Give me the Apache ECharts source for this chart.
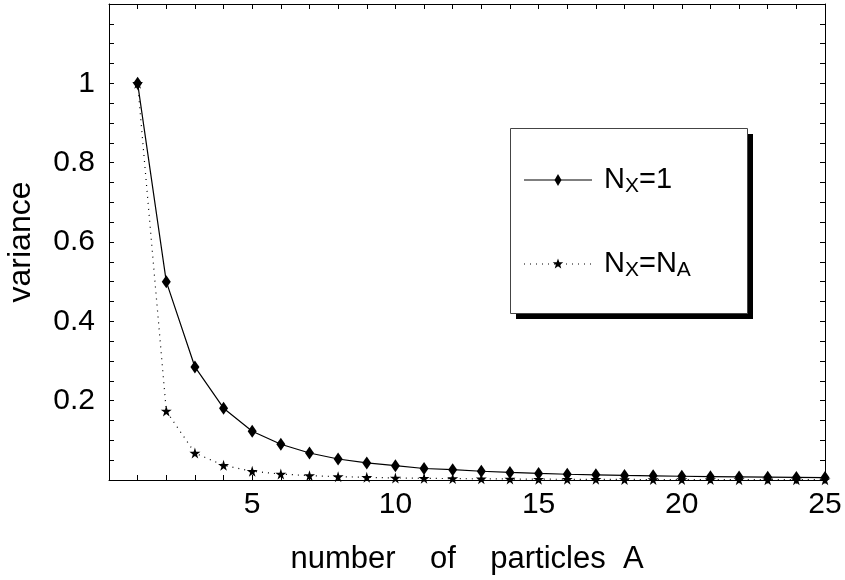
<!DOCTYPE html>
<html>
<head>
<meta charset="utf-8">
<script src="https://cdn.jsdelivr.net/npm/echarts@6/dist/echarts.min.js"></script>
<style>
html,body{margin:0;padding:0;background:#fff;}
#chart{width:845px;height:580px;}
</style>
</head>
<body>
<div id="chart"></div>
<script>
// ---- data ----
var particlesA = [1,2,3,4,5,6,7,8,9,10,11,12,13,14,15,16,17,18,19,20,21,22,23,24,25];
var varianceNx1 = [1.0,0.5,0.285,0.181,0.123,0.090,0.068,0.053,0.043,0.036,0.029,0.026,0.022,0.019,0.0165,0.0145,0.013,0.0115,0.0104,0.0094,0.0085,0.0078,0.0071,0.0066,0.0061];
var varianceNxNa = [1.0,0.174,0.068,0.037,0.022,0.015,0.011,0.0085,0.0067,0.0052,0.0042,0.0035,0.0029,0.0025,0.0021,0.0018,0.0016,0.0014,0.0012,0.0011,0.0010,0.0009,0.0008,0.0007,0.0007];
var xTickLabels = [5,10,15,20,25];
var yTickLabels = [0.2,0.4,0.6,0.8,1];
var xTitle = 'number    of    particles  A';
var yTitle = 'variance';

var FONT = 'Liberation Sans, Arial, sans-serif';
var starPath = 'path://M50,0 L61,35 L98,35 L68,57 L79,91 L50,70 L21,91 L32,57 L2,35 L39,35 Z';

function pairs(xs, ys){ return xs.map(function(x,i){ return [x, ys[i]]; }); }

var chart = echarts.init(document.getElementById('chart'), null, {renderer:'canvas'});

var axisCommon = {
  axisLine:{show:true, onZero:false, lineStyle:{color:'#000', width:1}},
  axisTick:{show:true, inside:true, length:5, lineStyle:{color:'#000', width:1}},
  splitLine:{show:false}
};

var option = {
  backgroundColor:'#fff',
  animation:false,
  grid:{left:109, right:20, top:4, bottom:100, containLabel:false, outerBoundsMode:'none'},
  xAxis:[
    Object.assign({}, axisCommon, {
      type:'value', position:'bottom', min:0, max:25, interval:5,
      minorTick:{show:true, splitNumber:5, length:5, lineStyle:{color:'#000', width:1}},
      axisLabel:{show:true, margin:10, color:'#000', fontFamily:FONT, fontSize:30,
        formatter:function(v){ return xTickLabels.indexOf(Math.round(v))>=0 ? String(Math.round(v)) : ''; }},
      name:xTitle, nameLocation:'middle', nameGap:64,
      nameTextStyle:{color:'#000', fontFamily:FONT, fontSize:31}
    }),
    Object.assign({}, axisCommon, {
      type:'value', position:'top', min:0, max:25, interval:5,
      minorTick:{show:true, splitNumber:5, length:5, lineStyle:{color:'#000', width:1}},
      axisLabel:{show:false}
    })
  ],
  yAxis:[
    Object.assign({}, axisCommon, {
      type:'value', position:'left', min:0, max:1.2, interval:0.2,
      minorTick:{show:true, splitNumber:4, length:5, lineStyle:{color:'#000', width:1}},
      axisLabel:{show:true, margin:14, color:'#000', fontFamily:FONT, fontSize:30,
        formatter:function(v){
          var r = Math.round(v*10)/10;
          for (var i=0;i<yTickLabels.length;i++){ if (Math.abs(yTickLabels[i]-r)<1e-9) return String(yTickLabels[i]); }
          return '';
        }},
      name:yTitle, nameLocation:'middle', nameGap:72, nameRotate:90,
      nameTextStyle:{color:'#000', fontFamily:FONT, fontSize:32}
    }),
    Object.assign({}, axisCommon, {
      type:'value', position:'right', min:0, max:1.2, interval:0.2,
      minorTick:{show:true, splitNumber:4, length:5, lineStyle:{color:'#000', width:1}},
      axisLabel:{show:false}
    })
  ],
  series:[
    {
      name:'Nx=1', type:'line', xAxisIndex:0, yAxisIndex:0,
      data:pairs(particlesA, varianceNx1),
      symbol:'diamond', symbolSize:[9,13], showAllSymbol:true,
      lineStyle:{color:'#000', width:1.2},
      itemStyle:{color:'#000'},
      z:3
    },
    {
      name:'Nx=NA', type:'line', xAxisIndex:0, yAxisIndex:0,
      data:pairs(particlesA, varianceNxNa),
      symbol:starPath, symbolSize:11, showAllSymbol:true,
      lineStyle:{color:'#000', width:1.2, type:[1,5]},
      itemStyle:{color:'#000'},
      z:2
    }
  ],
  graphic:[
    {type:'rect', shape:{x:516, y:134, width:237, height:185}, style:{fill:'#000'}, z:100},
    {type:'rect', shape:{x:510.5, y:128.5, width:237, height:185}, style:{fill:'#fff', stroke:'#444', lineWidth:1}, z:101},
    {type:'line', shape:{x1:524, y1:180, x2:592, y2:180}, style:{stroke:'#000', lineWidth:1.2}, z:102},
    {type:'polygon', shape:{points:[[558,174],[561.5,180],[558,186],[554.5,180]]}, style:{fill:'#000'}, z:103},
    {type:'line', shape:{x1:524, y1:264, x2:592, y2:264}, style:{stroke:'#000', lineWidth:1.2, lineDash:[1,5]}, z:102},
    {type:'polygon', shape:{points:(function(){
        var pts=[], cx=558, cy=264, R=5.5, r=2.3;
        for (var k=0;k<10;k++){ var a=-Math.PI/2 + k*Math.PI/5; var rr=(k%2===0)?R:r; pts.push([cx+rr*Math.cos(a), cy+rr*Math.sin(a)]); }
        return pts; })()}, style:{fill:'#000'}, z:103},
    {type:'text', left:604, top:165, z:104, style:{
      text:'{a|N}{b|X}{a|=1}',
      rich:{a:{fontSize:29, fontFamily:FONT, fill:'#000', lineHeight:34}, b:{fontSize:21, fontFamily:FONT, fill:'#000', lineHeight:18, verticalAlign:'bottom'}}
    }},
    {type:'text', left:604, top:249, z:104, style:{
      text:'{a|N}{b|X}{a|=N}{b|A}',
      rich:{a:{fontSize:29, fontFamily:FONT, fill:'#000', lineHeight:34}, b:{fontSize:21, fontFamily:FONT, fill:'#000', lineHeight:18, verticalAlign:'bottom'}}
    }}
  ]
};
chart.setOption(option);
</script>
</body>
</html>
